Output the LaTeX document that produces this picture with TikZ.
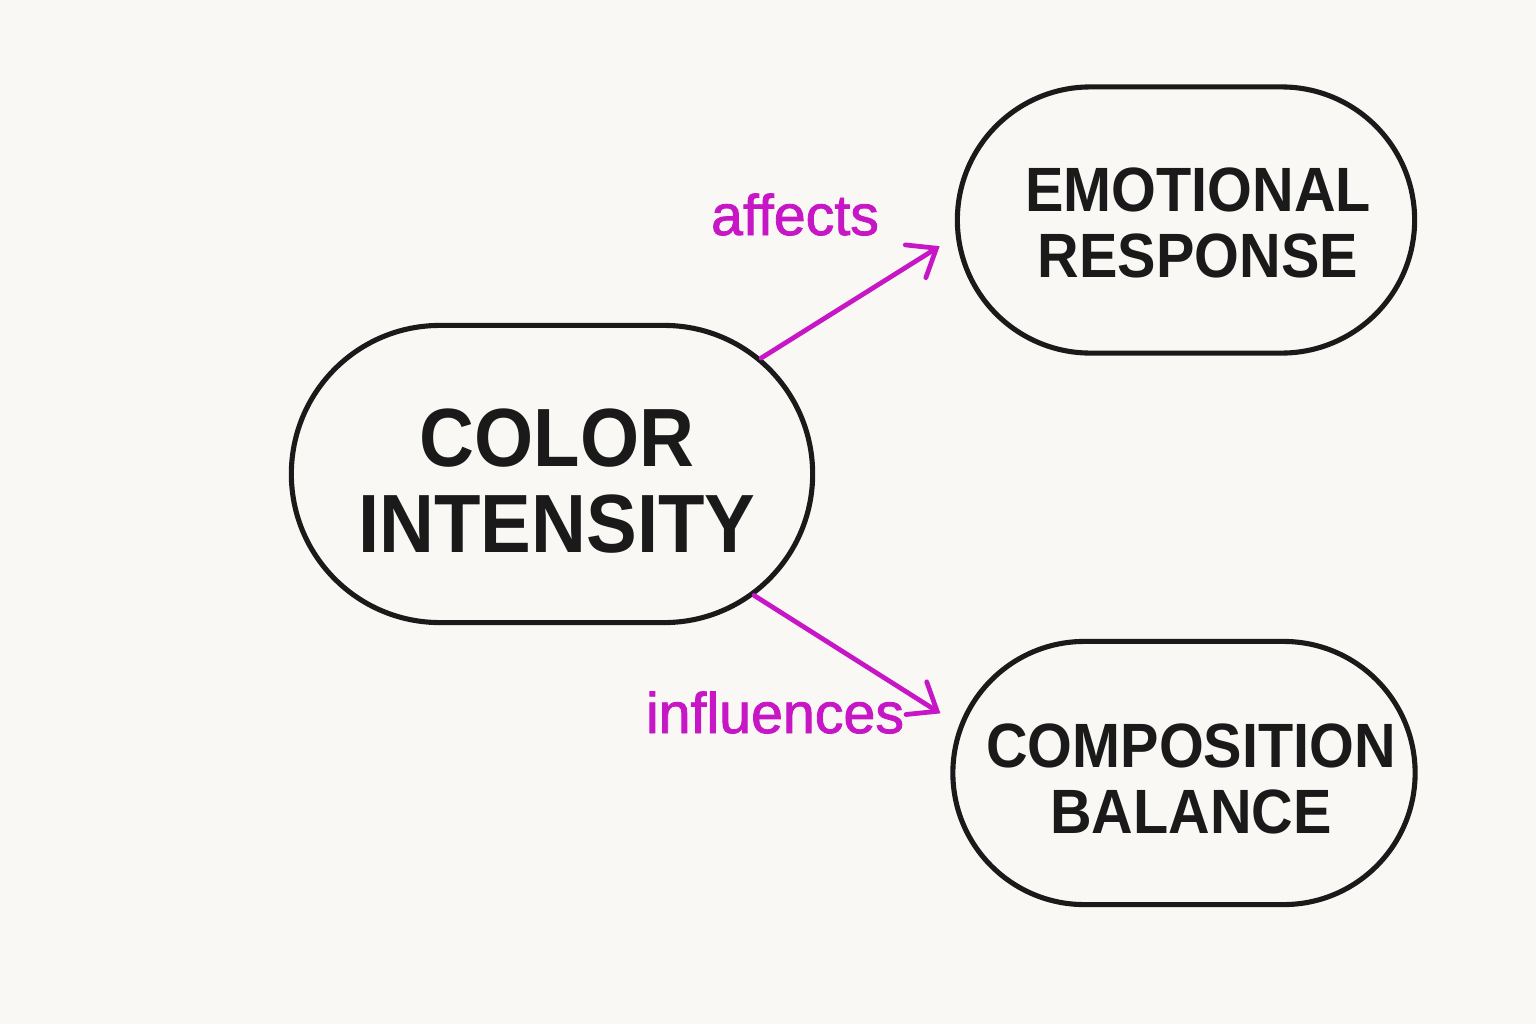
\documentclass[tikz,border=0pt]{standalone}
\usepackage{fontspec}
\usetikzlibrary{shapes.misc,arrows.meta}
\newfontfamily\nodefont[FakeStretch=0.92,BoldFeatures={FakeStretch=0.92}]{Liberation Sans}
\newfontfamily\labfont[FakeBold=1.5]{Liberation Sans}
\definecolor{bgc}{RGB}{249,248,244}
\definecolor{inkc}{RGB}{26,26,26}
\definecolor{magc}{RGB}{198,22,198}
\tikzset{
  pill/.style={rounded rectangle, draw=inkc, line width=1.45pt, fill=bgc, inner sep=0pt},
  ptext/.style={text=inkc, align=center, inner sep=0pt},
  bigtxt/.style={font=\nodefont\bfseries\fontsize{23.5pt}{24.5pt}\selectfont},
  smalltxt/.style={font=\nodefont\bfseries\fontsize{17.8pt}{19pt}\selectfont},
  conn/.style={draw=magc, line width=1.35pt, line cap=round, -{Straight Barb[length=7pt,width=11pt,line cap=round]}},
  lab/.style={text=magc, font=\labfont\fontsize{16.3pt}{18pt}\selectfont, anchor=base, inner sep=0pt}
}
\begin{document}
\begin{tikzpicture}[x=0.01cm,y=-0.01cm]
\useasboundingbox (0,0) rectangle (1536,1024);
\fill[bgc] (0,0) rectangle (1536,1024);
\node[pill, minimum width=5.21cm, minimum height=2.97cm] (ci) at (552,474) {};
\node[pill, minimum width=4.57cm, minimum height=2.66cm] (er) at (1186,220) {};
\node[pill, minimum width=4.62cm, minimum height=2.63cm] (cb) at (1184,773) {};
\node[ptext, bigtxt] (cit) at (557,481) {COLOR\\INTENSITY};
\node[ptext, smalltxt] (ert) at (1198,223) {EMOTIONAL\\RESPONSE};
\node[ptext, smalltxt] (cbt) at (1191,779) {COMPOSITION\\BALANCE};
\draw[conn, shorten >=5.4pt] (ci.29) -- (er.184);
\draw[conn, shorten >=6.3pt] (ci.-31) -- (cb.168);
\node[lab] (la) at (795,235) {affects};
\node[lab] (lb) at (775,733) {influences};
\end{tikzpicture}
\end{document}
